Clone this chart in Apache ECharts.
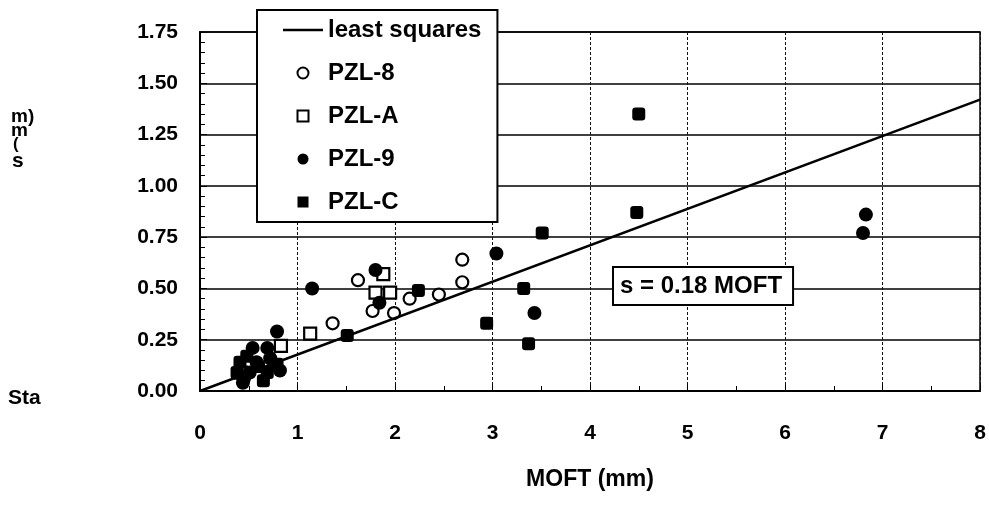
<!DOCTYPE html>
<html>
<head>
<meta charset="utf-8">
<script src="https://cdn.jsdelivr.net/npm/echarts@6/dist/echarts.min.js"></script>
<style>
  html, body { margin: 0; padding: 0; background: #fff; }
  #main { width: 989px; height: 510px; }
</style>
</head>
<body>
<div id="main"></div>
<script>
// least squares fit, s = 0.18 MOFT
var fitX = [0, 8]
var fitY = [0, 1.42]

// PZL-8 (open circles)
var pzl8X = [0.45, 1.36, 1.62, 1.77, 1.99, 2.15, 2.45, 2.69, 2.69]
var pzl8Y = [0.06, 0.33, 0.54, 0.39, 0.38, 0.45, 0.47, 0.64, 0.53]

// PZL-A (open squares)
var pzlAX = [0.42, 0.83, 1.13, 1.80, 1.95, 1.88]
var pzlAY = [0.09, 0.22, 0.28, 0.48, 0.48, 0.57]

// PZL-9 (filled circles)
var pzl9X = [0.44, 0.51, 0.54, 0.58, 0.69, 0.72, 0.82, 0.79, 1.15, 1.80, 1.84, 3.04, 3.43, 6.80, 6.83]
var pzl9Y = [0.04, 0.09, 0.21, 0.14, 0.21, 0.16, 0.10, 0.29, 0.50, 0.59, 0.43, 0.67, 0.38, 0.77, 0.86]

// PZL-C (filled squares)
var pzlCX = [0.38, 0.41, 0.48, 0.60, 0.65, 0.69, 0.79, 1.51, 2.24, 2.94, 3.32, 3.37, 3.51, 4.48, 4.50]
var pzlCY = [0.09, 0.14, 0.17, 0.12, 0.05, 0.09, 0.13, 0.27, 0.49, 0.33, 0.50, 0.23, 0.77, 0.87, 1.35]

var xTicks = [0, 1, 2, 3, 4, 5, 6, 7, 8]
var yTicks = [0, 0.25, 0.5, 0.75, 1, 1.25, 1.5, 1.75]

function pairs(xs, ys) {
    return xs.map(function (x, i) { return [x, ys[i]] })
}

var font = 'Liberation Sans, Arial, sans-serif'
var squareIcon = 'path://M0,0L10,0L10,10L0,10Z'
var lineIcon = 'path://M0,0L40,0L40,2.5L0,2.5Z'
var chart = echarts.init(document.getElementById('main'))

var option = {
    backgroundColor: '#fff',
    animation: false,
    grid: {
        left: 200, right: 9, top: 32, bottom: 119,
        show: true, borderColor: '#000', borderWidth: 1.5
    },
    legend: {
        orient: 'vertical',
        left: 257, top: 10,
        padding: [8, 16, 8, 26],
        itemWidth: 40, itemHeight: 11,
        itemGap: 19,
        symbolKeepAspect: true,
        backgroundColor: '#fff',
        borderColor: '#000', borderWidth: 2,
        textStyle: { fontFamily: font, fontSize: 24, fontWeight: 'bold', color: '#000' },
        data: [
            { name: 'least squares', icon: lineIcon },
            { name: 'PZL-8', icon: 'circle' },
            { name: 'PZL-A', icon: squareIcon },
            { name: 'PZL-9', icon: 'circle' },
            { name: 'PZL-C', icon: squareIcon }
        ]
    },
    xAxis: {
        type: 'value',
        min: xTicks[0], max: xTicks[xTicks.length - 1], interval: 1,
        name: 'MOFT (mm)', nameLocation: 'middle', nameGap: 77,
        nameTextStyle: { fontFamily: font, fontSize: 23, fontWeight: 'bold', color: '#000' },
        axisLine: { lineStyle: { color: '#000', width: 2 } },
        axisTick: { inside: true, length: 6, lineStyle: { color: '#000' } },
        minorTick: { show: true, splitNumber: 2, length: 5, lineStyle: { color: '#000' } },
        axisLabel: { margin: 32, fontFamily: font, fontSize: 21, fontWeight: 'bold', color: '#000' },
        splitLine: { show: true, lineStyle: { color: '#111', width: 1, type: [3, 2] } }
    },
    yAxis: {
        type: 'value',
        min: yTicks[0], max: yTicks[yTicks.length - 1], interval: 0.25,
        axisLine: { show: true, lineStyle: { color: '#000', width: 2 } },
        axisTick: { inside: true, length: 7, lineStyle: { color: '#000' } },
        minorTick: { show: true, splitNumber: 5, length: 5, lineStyle: { color: '#000' } },
        axisLabel: {
            margin: 22, fontFamily: font, fontSize: 21, fontWeight: 'bold', color: '#000',
            formatter: function (v) { return v.toFixed(2) }
        },
        splitLine: { show: true, lineStyle: { color: '#000', width: 1.5 } }
    },
    graphic: [
        {
            type: 'text', left: 612, top: 266, z: 10,
            style: {
                text: 's = 0.18 MOFT', font: 'bold 24px ' + font, fill: '#000',
                backgroundColor: '#fff', borderColor: '#000', borderWidth: 2,
                padding: [6, 10, 6, 6]
            }
        },
        { type: 'text', left: 11, top: 107, style: { text: 'm)', font: 'bold 19px ' + font, fill: '#000' } },
        { type: 'text', left: 11, top: 121, style: { text: 'm', font: 'bold 19px ' + font, fill: '#000' } },
        { type: 'text', left: 13, top: 136, style: { text: '(', font: 'bold 17px ' + font, fill: '#000' } },
        { type: 'text', left: 12, top: 151, style: { text: 's', font: 'bold 21px ' + font, fill: '#000' } },
        { type: 'text', left: 8, top: 388, style: { text: 'Sta', font: 'bold 21px ' + font, fill: '#000' } }
    ],
    series: [
        {
            name: 'least squares', type: 'line',
            data: pairs(fitX, fitY),
            symbol: 'none',
            lineStyle: { color: '#000', width: 2.5 },
            itemStyle: { color: '#000' },
            z: 3
        },
        {
            name: 'PZL-8', type: 'scatter', symbol: 'circle', symbolSize: 12,
            data: pairs(pzl8X, pzl8Y),
            itemStyle: { color: '#fff', borderColor: '#000', borderWidth: 2.2, opacity: 1 }
        },
        {
            name: 'PZL-A', type: 'scatter', symbol: 'rect', symbolSize: 12,
            data: pairs(pzlAX, pzlAY),
            itemStyle: { color: '#fff', borderColor: '#000', borderWidth: 2.2, opacity: 1 }
        },
        {
            name: 'PZL-9', type: 'scatter', symbol: 'circle', symbolSize: 14,
            data: pairs(pzl9X, pzl9Y),
            itemStyle: { color: '#000', opacity: 1 }
        },
        {
            name: 'PZL-C', type: 'scatter', symbol: 'roundRect', symbolSize: 13,
            data: pairs(pzlCX, pzlCY),
            itemStyle: { color: '#000', opacity: 1 }
        }
    ]
}
chart.setOption(option)
</script>
</body>
</html>
